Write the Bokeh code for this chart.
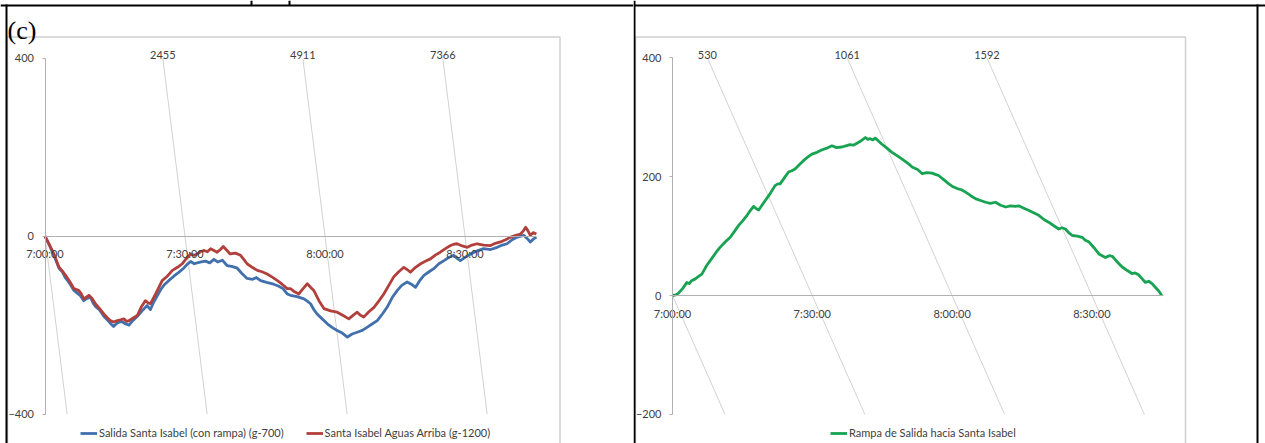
from bokeh.plotting import figure
from bokeh.models import Range1d, FixedTicker, Legend, LegendItem, BoxAnnotation, Label
from bokeh.layouts import row
from bokeh.embed import file_html
from bokeh.resources import INLINE
from bokeh.core.properties import value

# ---------------- data (minutes after 7:00:00) ----------------
blue_t = [0, 1, 2, 3, 3.7, 4.4, 5.2, 6.2, 6.9, 7.5, 8.3, 9, 9.75, 10.3, 10.8, 11.7, 12.6, 13.5, 14.2, 14.7,
          15.4, 16, 16.5, 17.2, 18, 18.8, 19.8, 20.8, 21.9, 22.6, 23.3, 24, 24.8, 25.5, 26.5, 27.6, 28.6, 29.7,
          30.4, 31.2, 32, 32.6, 33.5, 34.4, 35.3, 36.2, 37, 38, 39, 40, 41.2, 42.2, 43.3, 44.5, 45.3, 46.2,
          47.5, 49, 50, 51, 51.9, 52.6, 54, 55.5, 56.2, 56.9, 57.6, 58.3, 59.4, 60.5, 61.5, 62.6, 63.7, 64.8,
          65.8, 66.9, 68, 69, 70, 71.2, 72.3, 73.3, 74.4, 75.5, 76.5, 77.6, 78.5, 79.4, 80.3, 81.2, 82.3, 83.3,
          84.4, 85.5, 86.5, 87.6, 88.3, 89, 90.1, 91.2, 92.6, 94, 95.5, 96.9, 98, 99, 100.1, 101.2, 102.6,
          103.3, 104, 104.7, 105.3]
blue_v = [0, -22, -45, -72, -80, -94, -105, -122, -128, -133, -145, -140, -137, -150, -158, -166, -180, -190,
          -198, -203, -196, -193, -192, -197, -200, -190, -180, -168, -156, -165, -148, -135, -120, -110, -100,
          -90, -82, -72, -64, -57, -62, -60, -58, -56, -60, -52, -58, -54, -66, -68, -72, -84, -95, -97, -93,
          -100, -104, -108, -112, -118, -130, -133, -136, -141, -146, -152, -165, -175, -186, -197, -205, -212,
          -218, -227, -220, -216, -212, -205, -198, -190, -175, -160, -138, -122, -110, -103, -108, -115, -100,
          -88, -80, -73, -62, -55, -48, -43, -50, -55, -47, -40, -33, -28, -30, -25, -20, -17, -8, -2, 2, -5,
          -13, -6, -2]

red_t = [0, 1, 2, 3, 3.7, 4.4, 5.3, 6.2, 7.2, 7.8, 8.3, 9.4, 10.1, 10.8, 11.7, 12.6, 13.3, 14, 14.7, 15.5,
         16.2, 16.9, 17.5, 18, 18.9, 19.8, 20.6, 21.5, 22.1, 22.6, 23.2, 23.7, 24.4, 25.1, 26.2, 27.3, 28.4,
         29.4, 30.3, 31.2, 32, 32.6, 33.3, 34, 34.8, 35.5, 36.2, 36.9, 37.6, 38.2, 39, 39.7, 40.8, 41.9, 42.6,
         43.3, 44.4, 45.5, 46.5, 47.6, 48.7, 49.8, 50.8, 51.9, 52.6, 53.5, 54.4, 55.3, 56.2, 56.9, 57.6, 58.7,
         59.8, 61.2, 62.6, 63.8, 65.1, 66, 66.9, 67.6, 68.3, 69.4, 70.5, 71.6, 72.6, 73.7, 74.7, 75.8, 76.9,
         77.6, 78.3, 79.4, 80.5, 81.6, 82.6, 83.7, 84.7, 85.8, 86.9, 87.6, 88.3, 89.4, 90.5, 91.5, 92.6, 94,
         95.5, 96.5, 97.6, 98.7, 99.8, 100.9, 101.9, 102.5, 103, 103.5, 104, 104.6, 105.3]
red_v = [0, -20, -42, -70, -78, -88, -102, -118, -122, -130, -141, -133, -140, -152, -163, -175, -183, -190,
         -193, -190, -188, -186, -192, -190, -184, -178, -160, -145, -150, -152, -140, -130, -115, -100, -90,
         -77, -70, -62, -50, -40, -43, -40, -35, -32, -35, -28, -32, -36, -30, -23, -32, -40, -38, -43, -52,
         -62, -70, -77, -80, -85, -92, -100, -108, -118, -118, -125, -130, -118, -107, -115, -122, -145, -163,
         -168, -171, -178, -186, -178, -171, -178, -182, -170, -160, -145, -130, -110, -92, -80, -70, -75, -81,
         -70, -62, -56, -51, -42, -36, -28, -21, -18, -17, -22, -25, -20, -17, -20, -21, -16, -13, -8, -2, 2,
         5, 12, 20, 12, 2, 8, 5]

green_t = [0, 0.7, 1.3, 2.2, 3.1, 3.6, 4.1, 4.9, 5.6, 6.3, 7.3, 8.4, 9.3, 10.2, 11.3, 12.4, 13.3, 14.2, 15.1,
           16, 16.7, 17.4, 18, 18.5, 19.2, 19.9, 21, 22, 22.6, 23.1, 24, 24.9, 25.6, 26.3, 27.2, 28.1, 29,
           29.9, 31, 32, 33.1, 34.2, 35.2, 36.3, 37.2, 38.1, 38.8, 39.5, 40.4, 41.4, 41.9, 42.4, 43, 43.5, 44.2,
           44.9, 46, 47.1, 48.1, 49.2, 50.6, 51.5, 52.6, 53.6, 54.6, 55.7, 56.4, 57.1, 58.2, 59.3, 60.2, 61.1,
           62, 62.9, 64, 65, 66.1, 67.2, 68.2, 69.3, 70.4, 71.5, 72.5, 73.6, 74.3, 75.4, 76.5, 77.6, 78.6, 79.7,
           80.8, 81.9, 82.9, 83.6, 84.3, 85, 85.8, 86.9, 87.9, 88.6, 89.4, 90.5, 91.5, 92.2, 92.9, 93.7, 94.4,
           95.5, 96.5, 97.6, 98.6, 99.3, 100, 100.8, 101.5, 102.2, 102.9, 103.6, 104.3, 105]
green_v = [0, 1, 4, 12, 22, 20, 25, 28, 32, 36, 50, 62, 72, 81, 90, 98, 108, 118, 126, 135, 143, 150, 146, 144,
           152, 160, 172, 185, 188, 188, 198, 208, 210, 213, 220, 227, 233, 238, 241, 245, 248, 252, 249, 250,
           252, 254, 253, 256, 260, 266, 263, 264, 262, 265, 260, 255, 248, 241, 236, 230, 222, 216, 212, 205,
           207, 206, 204, 202, 195, 188, 183, 180, 178, 174, 168, 163, 160, 157, 155, 157, 152, 149, 151, 150,
           151, 147, 143, 139, 135, 128, 123, 117, 112, 114, 112, 106, 101, 100, 98, 93, 90, 80, 70, 67, 64, 67,
           66, 56, 48, 42, 37, 38, 35, 28, 22, 24, 20, 14, 8, 0]

time_ticks = [0, 30, 60, 90]
time_labels = ["7:00:00", "7:30:00", "8:00:00", "8:30:00"]
left_secondary_labels = ["2455", "4911", "7366"]
right_secondary_labels = ["530", "1061", "1592"]
left_y_ticks = [-400, 0, 400]
right_y_ticks = [-200, 0, 200, 400]
left_legend_labels = ["Salida Santa Isabel (con rampa) (g-700)", "Santa Isabel Aguas Arriba (g-1200)"]
right_legend_labels = ["Rampa de Salida hacia Santa Isabel"]

BLUE = "#4270ad"
RED = "#b1403c"
GREEN = "#17a352"
FONT = "Lato"
TXT = "#404040"
AXIS = "#b0b0b0"
GRIDC = "#d2d2d2"
H = 443
LINE_W = 2.8


def make_chart(width, xr, yr, y_ticks, y_lo, y_hi, slope, sec_labels):
    p = figure(width=width, height=H, x_range=Range1d(*xr), y_range=Range1d(*yr),
               output_backend="svg", toolbar_location=None, min_border=0)
    p.outline_line_color = None
    p.xgrid.visible = False
    p.ygrid.visible = False
    p.background_fill_color = "white"
    p.border_fill_color = "white"

    # slanted secondary gridlines through the primary ticks
    xs0, ys0, xs1, ys1 = [], [], [], []
    for t in time_ticks:
        x0, y0 = t - slope * y_hi, y_hi
        if x0 < 0:
            x0, y0 = 0, t / slope
        xs0.append(x0); ys0.append(y0)
        xs1.append(t - slope * y_lo); ys1.append(y_lo)
    p.segment(x0=xs0, y0=ys0, x1=xs1, y1=ys1, line_color=GRIDC, line_width=1)
    p.text(x=xs0[1:], y=[y_hi] * len(sec_labels), text=sec_labels, text_font=value(FONT),
           text_font_size="11px", text_color=TXT, text_align="center", text_baseline="middle",
           y_offset=-3)

    xa = p.xaxis[0]
    xa.fixed_location = 0
    xa.bounds = (0, 105.3)
    xa.ticker = FixedTicker(ticks=time_ticks)
    xa.major_label_overrides = {t: l for t, l in zip(time_ticks, time_labels)}
    xa.major_tick_out = 0
    xa.major_tick_in = 0
    xa.minor_tick_out = 0
    xa.minor_tick_in = 0
    xa.axis_line_color = AXIS
    xa.major_label_standoff = 11
    xa.major_label_text_font = FONT
    xa.major_label_text_font_size = "11px"
    xa.major_label_text_color = TXT

    ya = p.yaxis[0]
    ya.fixed_location = 0
    ya.bounds = (y_lo, y_hi)
    ya.ticker = FixedTicker(ticks=y_ticks)
    ya.major_tick_out = 3
    ya.major_tick_in = 0
    ya.minor_tick_out = 0
    ya.minor_tick_in = 0
    ya.major_tick_line_color = AXIS
    ya.axis_line_color = AXIS
    ya.major_label_standoff = 8
    ya.major_label_text_font = FONT
    ya.major_label_text_font_size = "11px"
    ya.major_label_text_color = TXT
    return p


def frame_boxes(p, boxes):
    for (l, r, t, b, fill, line, lw) in boxes:
        p.add_layout(BoxAnnotation(left=l, right=r, top=H - t, bottom=H - b,
                                   left_units="screen", right_units="screen",
                                   top_units="screen", bottom_units="screen",
                                   fill_color=fill, fill_alpha=1 if fill else 0,
                                   line_color=line, line_width=lw, line_alpha=1 if line else 0))


# ---------------- left chart ----------------
LW = 633
left = make_chart(LW, (-44.5 / 4.6667, (LW - 44.5) / 4.6667), (-(H - 235.7) / 0.4445, 235.7 / 0.4445),
                  left_y_ticks, -400, 400, 0.01187, left_secondary_labels)
rb = left.line(blue_t, blue_v, line_color=BLUE, line_width=LINE_W, line_join="round")
rr = left.line(red_t, red_v, line_color=RED, line_width=LINE_W, line_join="round")
leg_l = Legend(items=[LegendItem(label=left_legend_labels[0], renderers=[rb]),
                      LegendItem(label=left_legend_labels[1], renderers=[rr])],
               location=(80, 4), orientation="horizontal", padding=0, margin=0, spacing=22,
               glyph_width=17, glyph_height=12, label_height=12, label_standoff=2,
               label_text_font=FONT, label_text_font_size="11px", label_text_color=TXT,
               background_fill_alpha=0, border_line_color=None)
left.add_layout(leg_l)
frame_boxes(left, [
    (7, 559.5, 36.5, H + 10, None, "#d0d0d0", 1.5),
    (0, LW, 4, 6, "black", None, 0),
    (5, 7, 4, H, "black", None, 0),
    (250, 252, 0, 5, "black", None, 0),
    (288, 290, 0, 5, "black", None, 0),
])
left.add_layout(Label(x=7, y=H - 30, x_units="screen", y_units="screen", text="(c)",
                      text_font="Liberation Serif", text_font_size="26px", text_color="black",
                      text_baseline="alphabetic"))

# ---------------- right chart ----------------
RW = 632
right = make_chart(RW, (-39 / 4.66, (RW - 39) / 4.66), (-(H - 295) / 0.594, 295 / 0.594),
                   right_y_ticks, -200, 400, 0.0563, right_secondary_labels)
rg = right.line(green_t, green_v, line_color=GREEN, line_width=LINE_W, line_join="round")
leg_r = Legend(items=[LegendItem(label=right_legend_labels[0], renderers=[rg])],
               location=(197, 4), orientation="horizontal", padding=0, margin=0, spacing=22,
               glyph_width=17, glyph_height=12, label_height=12, label_standoff=2,
               label_text_font=FONT, label_text_font_size="11px", label_text_color=TXT,
               background_fill_alpha=0, border_line_color=None)
right.add_layout(leg_r)
frame_boxes(right, [
    (2, 552, 36.5, H + 10, None, "#d0d0d0", 1.5),
    (0, RW, 4, 6, "black", None, 0),
    (0, 2, 0, H, "black", None, 0),
    (623, 625, 4, H, "black", None, 0),
])

layout = row(left, right)
open("out.html", "w").write(file_html(layout, INLINE))
